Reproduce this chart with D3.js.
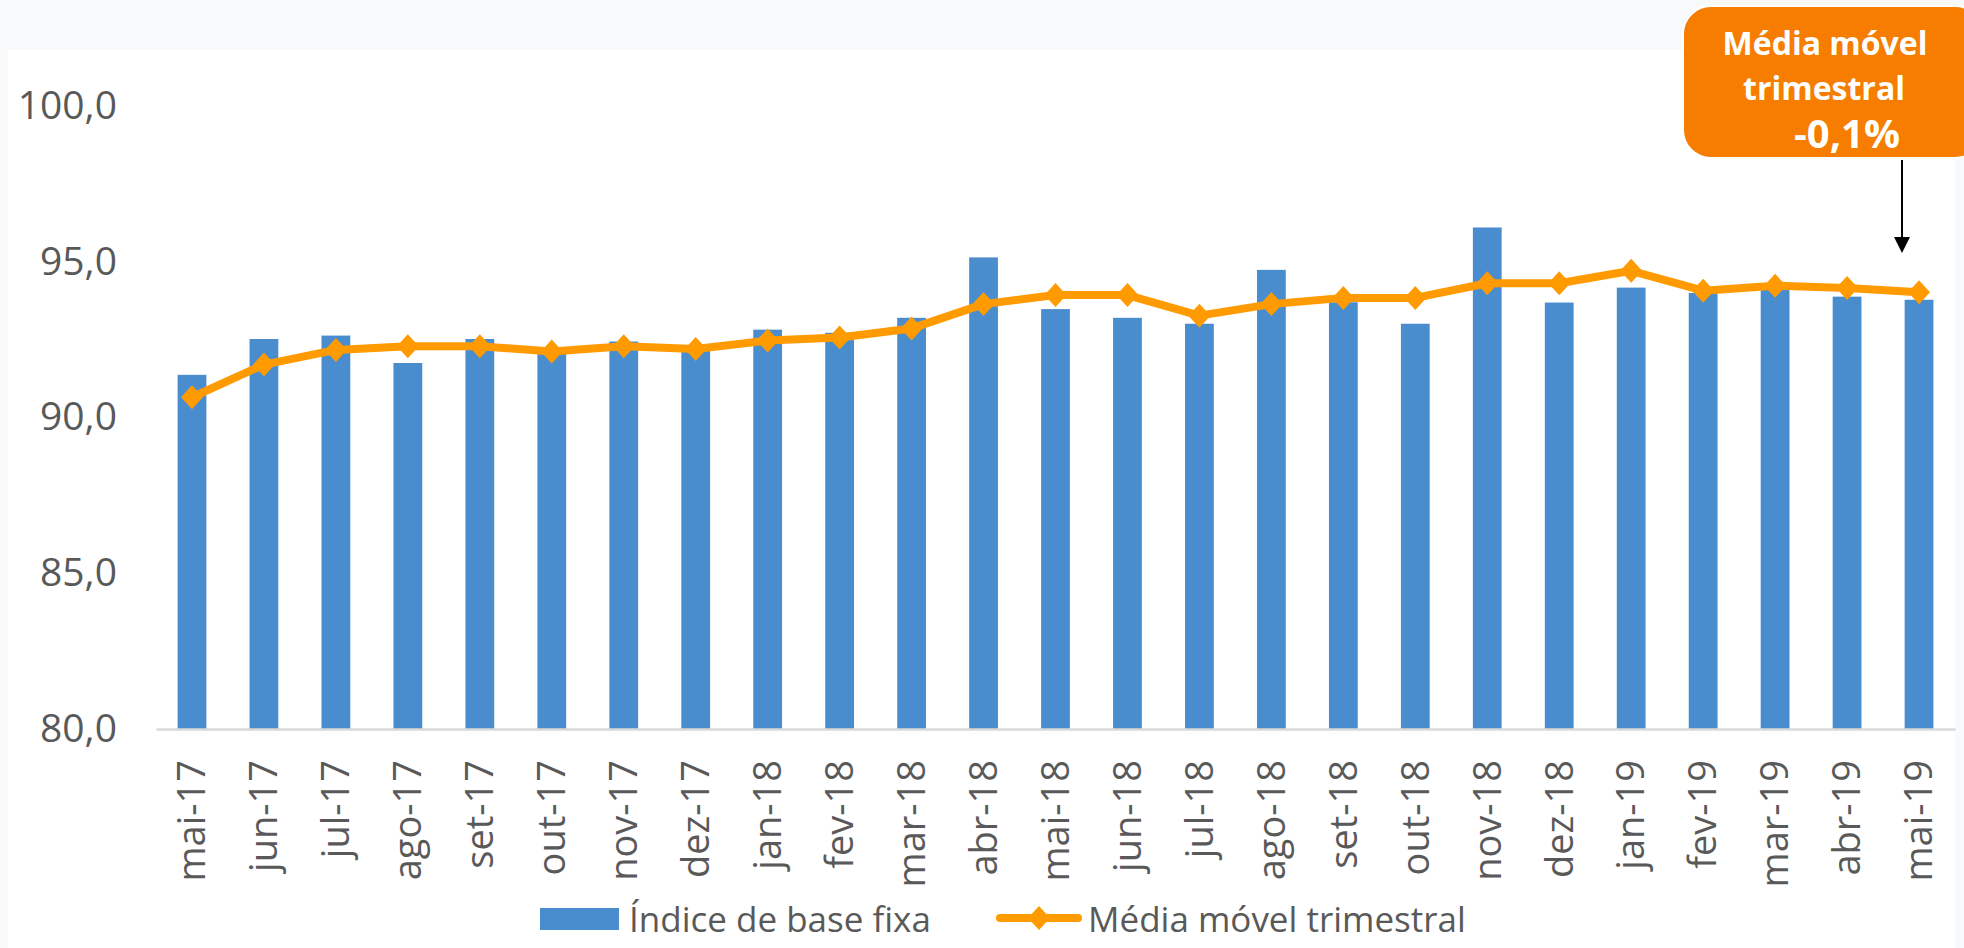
<!DOCTYPE html>
<html>
<head>
<meta charset="utf-8">
<script src="https://cdn.jsdelivr.net/npm/d3@7"></script>
<style>
  html, body { margin: 0; padding: 0; background: #f8f9fa; }
  svg { display: block; }
</style>
</head>
<body>
<div id="chart"></div>
<script>
// meses do eixo x
var months = ["mai-17", "jun-17", "jul-17", "ago-17", "set-17", "out-17", "nov-17", "dez-17",
  "jan-18", "fev-18", "mar-18", "abr-18", "mai-18", "jun-18", "jul-18", "ago-18", "set-18",
  "out-18", "nov-18", "dez-18", "jan-19", "fev-19", "mar-19", "abr-19", "mai-19"];

// Índice de base fixa (barras)
var indice = [91.37, 92.52, 92.63, 91.75, 92.52, 92.05, 92.44, 92.2, 92.82, 92.72, 93.2, 95.14,
  93.48, 93.2, 93.01, 94.74, 93.7, 93.01, 96.1, 93.69, 94.17, 94.0, 94.1, 93.88, 93.78];

// Média móvel trimestral (linha)
var media = [90.65, 91.7, 92.17, 92.29, 92.29, 92.12, 92.29, 92.2, 92.47, 92.57, 92.86, 93.64,
  93.93, 93.93, 93.27, 93.64, 93.84, 93.84, 94.31, 94.31, 94.71, 94.07, 94.23, 94.16, 94.02];

var yTicks = [80, 85, 90, 95, 100];

var seriesNames = ["Índice de base fixa", "Média móvel trimestral"];
var boxLines = ["Média móvel", "trimestral", "-0,1%"];

var W = 1964, H = 948;
var barColor = "#4a8dcf";
var lineColor = "#ff9a00";
var textColor = "#595959";
var font = "'Open Sans', 'Noto Sans', sans-serif";

var pt = d3.formatLocale({ decimal: ",", thousands: ".", grouping: [3], currency: ["", ""] });
var fmt = pt.format(".1f");

var svg = d3.select("#chart").append("svg")
  .attr("width", W)
  .attr("height", H)
  .attr("font-family", font);

// painel branco
svg.append("rect")
  .attr("x", 8).attr("y", 50)
  .attr("width", 1947).attr("height", H - 50)
  .attr("fill", "#fff");

var x = d3.scaleBand()
  .domain(months)
  .range([156, 1955])
  .paddingInner(0.6)
  .paddingOuter(0.3);

var y = d3.scaleLinear()
  .domain([80, 100])
  .range([729, 106]);

// eixo y (só rótulos)
var yAxis = svg.append("g")
  .attr("transform", "translate(125,0)")
  .call(d3.axisLeft(y).tickValues(yTicks).tickSize(0).tickFormat(fmt));
yAxis.select(".domain").remove();
yAxis.selectAll("text")
  .attr("x", -8)
  .attr("font-family", font)
  .attr("font-size", 39)
  .attr("fill", textColor);

// barras
svg.append("g").selectAll("rect")
  .data(indice)
  .enter()
  .append("rect")
  .attr("x", (d, i) => x(months[i]))
  .attr("y", d => y(d))
  .attr("width", x.bandwidth())
  .attr("height", d => y(80) - y(d))
  .attr("fill", barColor);

// eixo x
var xAxis = svg.append("g")
  .attr("transform", "translate(0," + y(80) + ")")
  .call(d3.axisBottom(x).tickSize(0).tickSizeOuter(0));
xAxis.select(".domain")
  .attr("stroke", "#d9d9d9")
  .attr("stroke-width", 2.5);
xAxis.selectAll("text")
  .attr("transform", "rotate(-90)")
  .attr("text-anchor", "end")
  .attr("x", -31)
  .attr("y", 0)
  .attr("dy", "0.35em")
  .attr("font-family", font)
  .attr("font-size", 38)
  .attr("fill", textColor);

// linha da média móvel
var cx = (d, i) => x(months[i]) + x.bandwidth() / 2;
var line = d3.line()
  .x(cx)
  .y(d => y(d));

svg.append("path")
  .datum(media)
  .attr("d", line)
  .attr("fill", "none")
  .attr("stroke", lineColor)
  .attr("stroke-width", 8)
  .attr("stroke-linejoin", "round");

var diamond = "M0,-12L11,0L0,12L-11,0Z";
svg.append("g").selectAll("path")
  .data(media)
  .enter()
  .append("path")
  .attr("d", diamond)
  .attr("transform", (d, i) => "translate(" + cx(d, i) + "," + y(d) + ")")
  .attr("fill", lineColor);

// legenda
var leg = svg.append("g").attr("font-family", font).attr("font-size", 35).attr("fill", textColor);
leg.append("rect")
  .attr("x", 540).attr("y", 908)
  .attr("width", 79).attr("height", 22)
  .attr("fill", barColor);
leg.append("text").attr("x", 629).attr("y", 932).text(seriesNames[0]);
leg.append("line")
  .attr("x1", 1000).attr("x2", 1078)
  .attr("y1", 918).attr("y2", 918)
  .attr("stroke", lineColor)
  .attr("stroke-width", 8)
  .attr("stroke-linecap", "round");
leg.append("path")
  .attr("d", diamond)
  .attr("transform", "translate(1039,918)")
  .attr("fill", lineColor);
leg.append("text").attr("x", 1088).attr("y", 932).text(seriesNames[1]);

// caixa de destaque
var last = media.length - 1;
var ax = cx(media[last], last) - 17;
svg.append("rect")
  .attr("x", 1683).attr("y", 6)
  .attr("width", 300).attr("height", 152)
  .attr("rx", 28)
  .attr("fill", "#f77d00")
  .attr("stroke", "#fff")
  .attr("stroke-width", 2);

var box = svg.append("g")
  .attr("font-family", font)
  .attr("font-weight", "bold")
  .attr("fill", "#fff")
  .attr("text-anchor", "middle");
box.append("text").attr("x", 1825).attr("y", 55).attr("font-size", 32).text(boxLines[0]);
box.append("text").attr("x", 1824).attr("y", 100).attr("font-size", 32).text(boxLines[1]);
box.append("text").attr("x", 1847).attr("y", 148).attr("font-size", 40).text(boxLines[2]);

// seta
svg.append("line")
  .attr("x1", ax).attr("x2", ax)
  .attr("y1", 160).attr("y2", 240)
  .attr("stroke", "#000")
  .attr("stroke-width", 2);
svg.append("path")
  .attr("d", "M" + (ax - 8) + ",237L" + (ax + 8) + ",237L" + ax + ",253Z")
  .attr("fill", "#000");
</script>
</body>
</html>
